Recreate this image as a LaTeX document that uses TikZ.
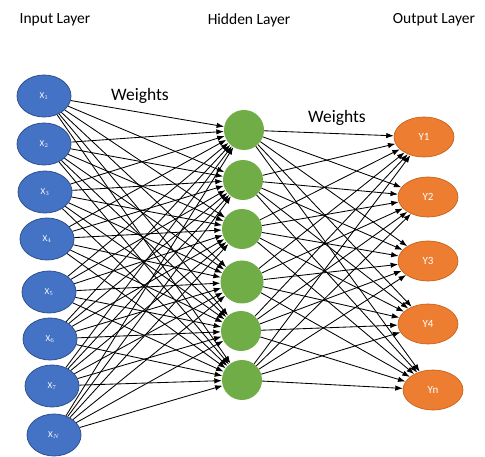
\documentclass[tikz,border=0pt]{standalone}
\usepackage{fontspec}
\setmainfont{Carlito}
\usetikzlibrary{shapes.geometric,arrows.meta}
\definecolor{inblue}{HTML}{4472C4}
\definecolor{inbord}{HTML}{2F528F}
\definecolor{hidgreen}{HTML}{70AD47}
\definecolor{outorange}{HTML}{ED7D31}
\definecolor{outbord}{HTML}{C55A11}
\tikzset{
  innode/.style={ellipse,fill=inblue,draw=inbord,line width=0.8pt,minimum width=54pt,minimum height=42pt,inner sep=0pt,text=white,font=\fontsize{9}{10}\selectfont},
  hidnode/.style={circle,fill=hidgreen,draw=none,minimum size=40pt,inner sep=0pt},
  outnode/.style={ellipse,fill=outorange,draw=outbord,line width=0.6pt,minimum width=60pt,minimum height=40pt,inner sep=0pt,text=white,font=\fontsize{11}{12}\selectfont},
  title/.style={font=\fontsize{15.5}{17}\selectfont,text=black},
  wlabel/.style={font=\fontsize{17.5}{19}\selectfont,text=black},
  conn/.style={-{Latex[length=7.5pt,width=5.5pt]},line width=0.85pt,black}
}
\begin{document}
\begin{tikzpicture}[x=1pt,y=-1pt]
\useasboundingbox (0,0) rectangle (485,457);
\node[title] (t1) at (55,20) {Input Layer};
\node[title] (t2) at (249,20) {Hidden Layer};
\node[title] (t3) at (434,20) {Output Layer};
\node[wlabel] (w1) at (140,96) {Weights};
\node[wlabel] (w2) at (337,118) {Weights};
\node[innode] (x1) at (44,96) {X$_1$};
\node[innode] (x2) at (44,144) {X$_2$};
\node[innode] (x3) at (45,192) {X$_3$};
\node[innode] (x4) at (47,239) {X$_4$};
\node[innode] (x5) at (49,292) {X$_5$};
\node[innode] (x6) at (50,339) {X$_6$};
\node[innode] (x7) at (52,386) {X$_7$};
\node[innode] (x8) at (54,435) {X$_N$};
\node[hidnode] (h1) at (244,130) {};
\node[hidnode] (h2) at (243,180) {};
\node[hidnode] (h3) at (242,229) {};
\node[hidnode,minimum size=43pt] (h4) at (242,282) {};
\node[hidnode] (h5) at (241,331) {};
\node[hidnode] (h6) at (242,380) {};
\node[outnode] (y1) at (424,137) {Y1};
\node[outnode] (y2) at (428,197) {Y2};
\node[outnode] (y3) at (428,261) {Y3};
\node[outnode] (y4) at (428,324) {Y4};
\node[outnode] (y5) at (433,390) {Yn};
\foreach \i in {1,...,8}{
  \foreach \j in {1,...,6}{
    \draw[conn] (x\i) -- (h\j);
  }
}
\foreach \j in {1,...,6}{
  \foreach \k in {1,...,5}{
    \draw[conn] (h\j) -- (y\k);
  }
}
\end{tikzpicture}
\end{document}
